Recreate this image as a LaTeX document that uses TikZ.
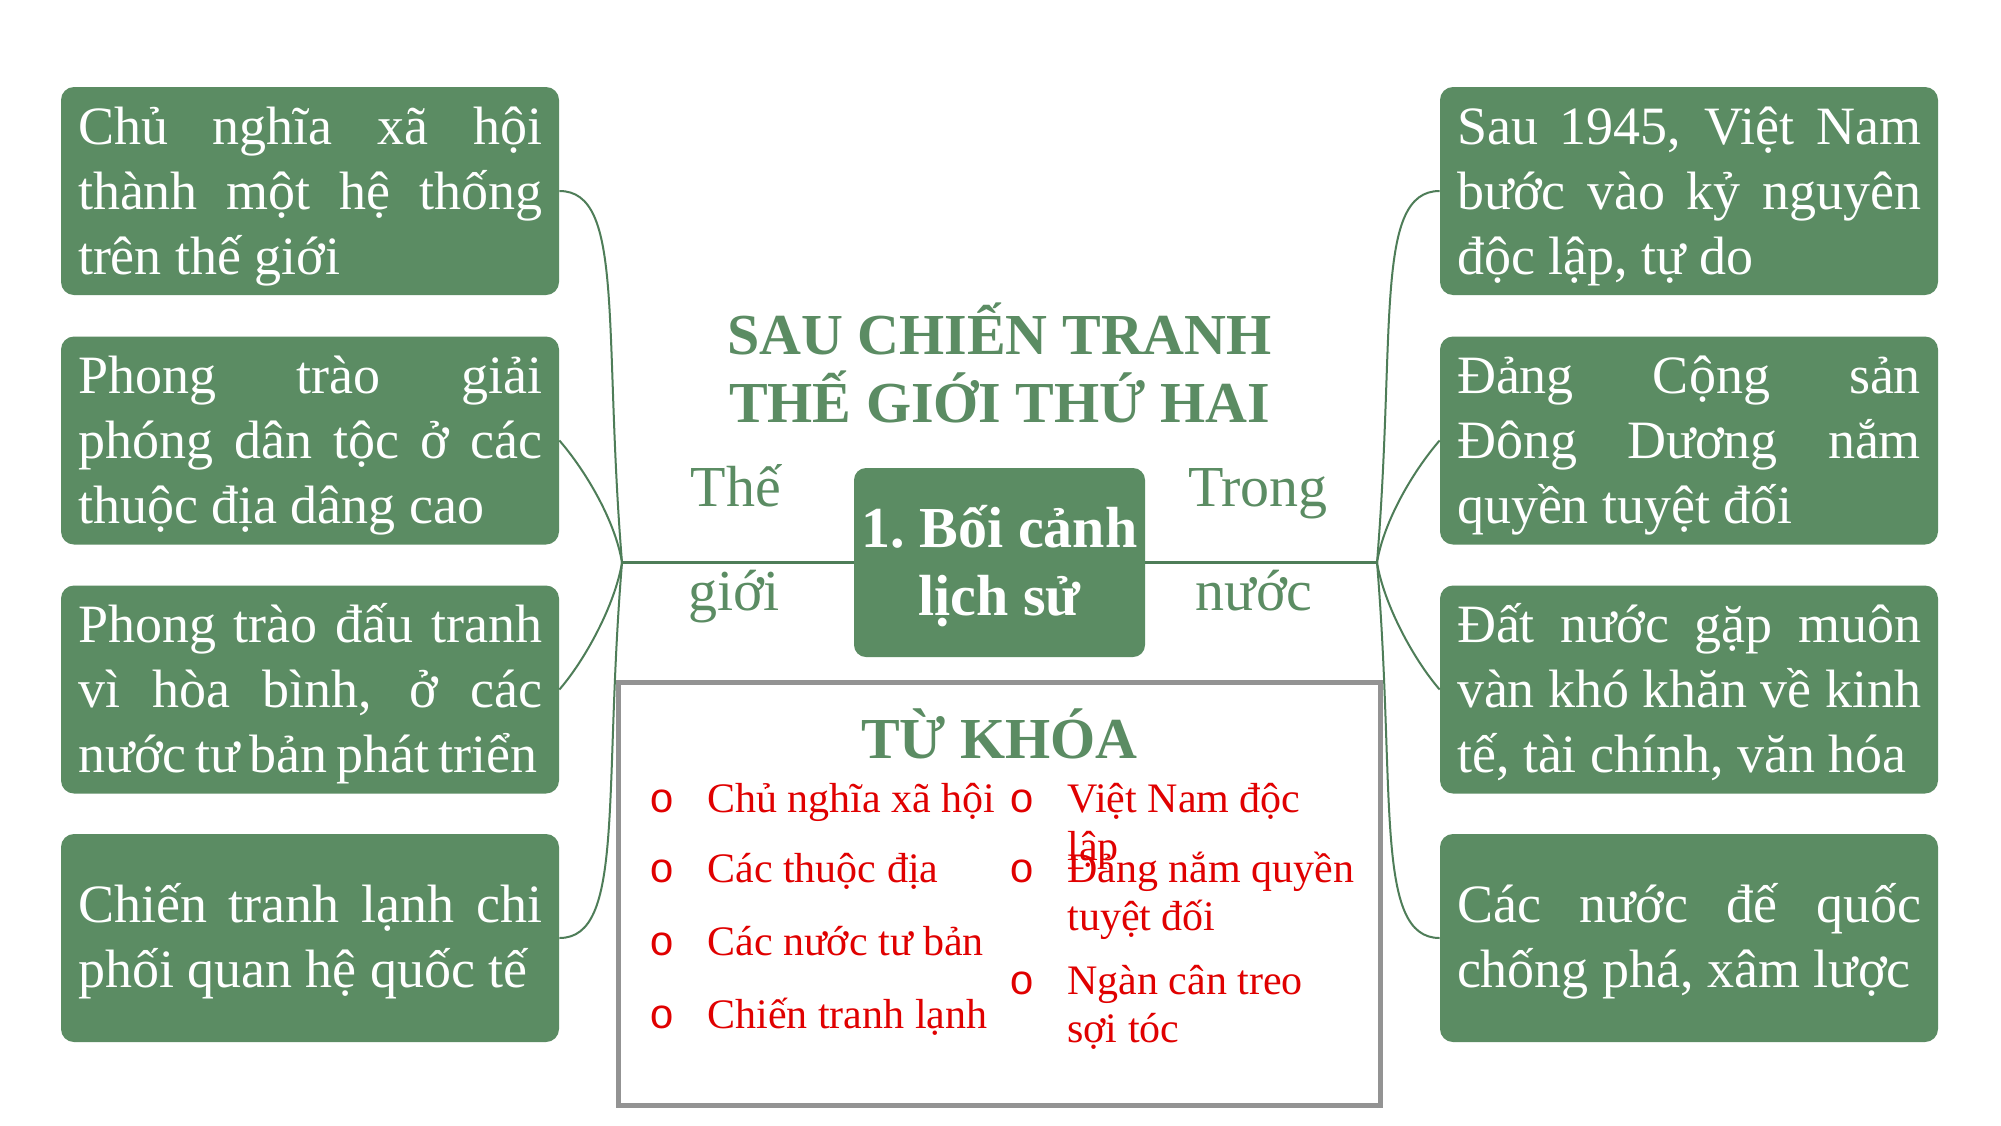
\documentclass[tikz,border=0pt]{standalone}
\usepackage{fontspec}
\setmainfont{Liberation Serif}
\newfontfamily\monofnt{Liberation Mono}
\definecolor{boxgreen}{HTML}{5B8C63}
\definecolor{linegreen}{HTML}{4E7D58}
\definecolor{kwred}{HTML}{E00000}
\definecolor{kwgrey}{HTML}{939393}
\newcommand{\jline}[1]{\makebox[232pt][s]{#1}}
\newcommand{\fline}[2]{\makebox[#1][s]{#2}}
\begin{document}
\begin{tikzpicture}[x=0.5pt,y=-0.5pt,
  infobox/.style={rectangle, rounded corners=6.5pt, fill=boxgreen, text=white,
    minimum width=249pt, minimum height=104pt, text width=232pt,
    inner xsep=8.5pt, inner ysep=0pt, align=flush left,
    font=\fontsize{27}{32.5}\selectfont},
  three/.style={text height=28.5pt, text depth=75.5pt},
  two/.style={text height=44pt, text depth=60pt},
  centerbox/.style={rectangle, rounded corners=6pt, fill=boxgreen, text=white,
    minimum width=145.5pt, minimum height=94.5pt, inner sep=0pt,
    text width=145.5pt, align=flush center,
    text height=39.5pt, text depth=55pt,
    font=\bfseries\fontsize{29}{34}\selectfont},
  titletext/.style={text=boxgreen, align=flush center, inner sep=0pt,
    font=\bfseries\fontsize{29}{34}\selectfont},
  sidetext/.style={text=boxgreen, inner sep=0pt, anchor=base,
    font=\fontsize{29}{33}\selectfont},
  conn/.style={draw=linegreen, line width=1pt},
  hline/.style={draw=linegreen, line width=1.5pt},
  kwbox/.style={draw=kwgrey, line width=2.5pt, fill=white},
  kwitem/.style={text=kwred, inner sep=0pt, anchor=base west, text width=170pt,
    align=flush left, font=\fontsize{21}{24}\selectfont},
  kwbullet/.style={text=kwred, inner sep=0pt, anchor=base,
    font=\monofnt\fontsize{21}{24}\selectfont},
  kwtitle/.style={text=boxgreen, inner sep=0pt, anchor=base,
    font=\bfseries\fontsize{29}{33}\selectfont}
]
\useasboundingbox[fill=white] (0,0) rectangle (2001,1125);

% left boxes
\node[infobox, three] (L1) at (310,191) {\jline{Chủ nghĩa xã hội}\\\jline{thành một hệ thống}\\trên thế giới};
\node[infobox, three] (L2) at (310,440.5) {\jline{Phong trào giải}\\\jline{phóng dân tộc ở các}\\thuộc địa dâng cao};
\node[infobox, three] (L3) at (310,689.5) {\jline{Phong trào đấu tranh}\\\jline{vì hòa bình, ở các}\\\fline{229pt}{nước tư bản phát triển}};
\node[infobox, two] (L4) at (310,938) {\jline{Chiến tranh lạnh chi}\\phối quan hệ quốc tế};

% right boxes
\node[infobox, three] (R1) at (1689,191) {\jline{Sau 1945, Việt Nam}\\\jline{bước vào kỷ nguyên}\\độc lập, tự do};
\node[infobox, three] (R2) at (1689,440.5) {\jline{Đảng Cộng sản}\\\jline{Đông Dương nắm}\\quyền tuyệt đối};
\node[infobox, three] (R3) at (1689,689.5) {\jline{Đất nước gặp muôn}\\\jline{vàn khó khăn về kinh}\\tế, tài chính, văn hóa};
\node[infobox, two] (R4) at (1689,938) {\jline{Các nước đế quốc}\\chống phá, xâm lược};

% title
\node[titletext] (T) at (999.5,363) {SAU CHIẾN TRANH\\THẾ GIỚI THỨ HAI};

% center
\node[centerbox] (C) at (999.5,562.5) {1.\ Bối cảnh\\lịch sử};
\coordinate (Jl) at (622,562.5);
\coordinate (Jr) at (1377,562.5);
\draw[hline] (Jl) -- (C.west);
\draw[hline] (C.east) -- (Jr);

\node[sidetext] (s1) at (736,506) {Thế};
\node[sidetext] (s2) at (734,610) {giới};
\node[sidetext] (s3) at (1258,506) {Trong};
\node[sidetext] (s4) at (1254,610) {nước};

% connectors left
\draw[conn] (L1.east) .. controls (625,191) and (603,330) .. (Jl);
\draw[conn] (L2.east) .. controls (585,470) and (615,520) .. (Jl);
\draw[conn] (L3.east) .. controls (585,660) and (615,605) .. (Jl);
\draw[conn] (L4.east) .. controls (625,938) and (603,794) .. (Jl);
% connectors right
\draw[conn] (R1.west) .. controls (1374,191) and (1396,330) .. (Jr);
\draw[conn] (R2.west) .. controls (1414,470) and (1384,520) .. (Jr);
\draw[conn] (R3.west) .. controls (1414,660) and (1384,605) .. (Jr);
\draw[conn] (R4.west) .. controls (1374,938) and (1396,794) .. (Jr);

% keyword box
\node[kwbox, rectangle, minimum width=381pt, minimum height=211.5pt, inner sep=0pt] (K) at (999,893.5) {};
\node[kwtitle] (KT) at (999.5,758) {TỪ KHÓA};

\node[kwbullet] (b1) at (662,812) {o};
\node[kwbullet] (b2) at (662,882) {o};
\node[kwbullet] (b3) at (662,955) {o};
\node[kwbullet] (b4) at (662,1028) {o};
\node[kwitem] (k1) at (707,812) {Chủ nghĩa xã hội};
\node[kwitem] (k2) at (707,882) {Các thuộc địa};
\node[kwitem] (k3) at (707,955) {Các nước tư bản};
\node[kwitem] (k4) at (707,1028) {Chiến tranh lạnh};

\node[kwbullet] (b5) at (1022,812) {o};
\node[kwbullet] (b6) at (1022,882) {o};
\node[kwbullet] (b7) at (1022,994) {o};
\node[kwitem] (k5) at (1067,812) {Việt Nam độc\\lập};
\node[kwitem] (k6) at (1067,882) {Đảng nắm quyền\\tuyệt đối};
\node[kwitem] (k7) at (1067,994) {Ngàn cân treo\\sợi tóc};
\end{tikzpicture}
\end{document}
